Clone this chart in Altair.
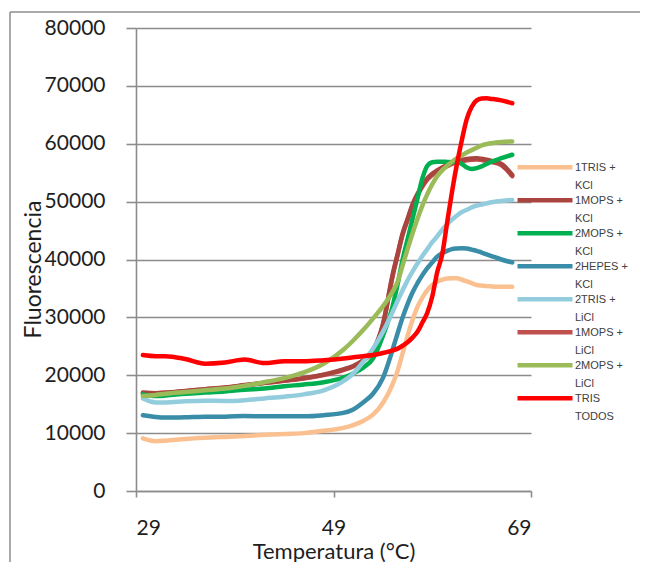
import altair as alt
import pandas as pd

# ---------------- data ----------------
temps = [29.7, 31, 32, 34, 36, 38, 40, 42, 44, 46, 48, 50, 51, 52, 53, 54, 55,
         55.5, 56, 56.5, 57, 57.5, 58, 58.5, 59, 59.5, 60, 60.5, 61, 61.5, 62,
         62.5, 63, 63.5, 64, 64.5, 65, 66, 67.1]

series_names = ["1TRIS + KCl", "1MOPS + KCl", "2MOPS + KCl", "2HEPES + KCl",
                "2TRIS + LiCl", "1MOPS + LiCl", "2MOPS + LiCl", "TRIS TODOS"]
series_colors = ["#FAC090", "#A9443F", "#00B050", "#3A8DA8",
                 "#93CDDD", "#C0504D", "#9BBB59", "#FF0000"]

tris1_kcl = [9100, 8600, 8700, 9000, 9200, 9350, 9500, 9700, 9850, 10000, 10400,
             10900, 11400, 12100, 13200, 15200, 18500, 20800, 23800, 26800, 29500,
             31800, 33400, 34700, 35600, 36200, 36500, 36700, 36750, 36750, 36500,
             36200, 35900, 35600, 35500, 35400, 35350, 35300, 35300]
mops1_kcl = [17000, 16900, 17000, 17300, 17600, 17900, 18300, 18700, 19100, 19500,
             20100, 21000, 21600, 22600, 24300, 28800, 37500, 41000, 44500, 47000,
             49500, 51300, 52800, 54000, 54800, 55400, 55900, 56300, 56700, 57000,
             57200, 57350, 57450, 57500, 57400, 57250, 57050, 56500, 54600]
mops2_kcl = [16700, 16400, 16500, 16800, 17000, 17200, 17500, 17700, 18100, 18400,
             18800, 19600, 20300, 21300, 22900, 26800, 32000, 35800, 40000, 43500,
             47000, 50500, 54000, 56200, 56800, 56900, 56900, 56850, 56800, 56800,
             56500, 55900, 55650, 55800, 56100, 56500, 56900, 57500, 58100]
hepes2_kcl = [13100, 12800, 12700, 12750, 12850, 12850, 12950, 12900, 12900, 12900,
              13100, 13500, 14100, 15300, 16800, 19500, 24500, 27300, 30000, 32300,
              34300, 35900, 37300, 38500, 39500, 40500, 41100, 41500, 41800, 41900,
              41950, 41900, 41700, 41500, 41200, 40900, 40600, 40000, 39500]
tris2_licl = [16000, 15300, 15300, 15500, 15600, 15550, 15700, 16000, 16300, 16700,
              17400, 19000, 20300, 22300, 24600, 27500, 31000, 32900, 34700, 36400,
              37900, 39300, 40600, 41800, 43000, 44000, 45100, 46100, 46900, 47600,
              48200, 48600, 49000, 49300, 49500, 49700, 49900, 50100, 50300]
mops1_licl = [16900, 16850, 16950, 17250, 17550, 17850, 18250, 18650, 19050, 19450,
              20050, 20900, 21500, 22500, 24200, 28600, 37200, 40800, 44300, 46800,
              49300, 51100, 52600, 53800, 54600, 55200, 55700, 56100, 56500, 56800,
              57000, 57150, 57250, 57300, 57200, 57050, 56850, 56300, 54400]
mops2_licl = [16400, 16600, 16800, 17100, 17400, 17700, 18200, 18800, 19500, 20500,
              22000, 24400, 26000, 27800, 29800, 31900, 34500, 36200, 39000, 41800,
              44500, 47000, 49300, 51300, 53000, 54400, 55400, 56200, 56900, 57500,
              58000, 58500, 58900, 59300, 59700, 59950, 60100, 60300, 60400]
tris_todos = [23500, 23300, 23300, 22800, 22000, 22200, 22700, 22100, 22400, 22400,
              22600, 22900, 23100, 23300, 23500, 23850, 24300, 24600, 25100, 25700,
              26500, 27500, 29100, 30800, 33600, 37800, 40800, 46300, 51700, 56500,
              60650, 64300, 66400, 67500, 67800, 67850, 67750, 67500, 67000]

series_values = [tris1_kcl, mops1_kcl, mops2_kcl, hepes2_kcl,
                 tris2_licl, mops1_licl, mops2_licl, tris_todos]

x_ticks = [29, 49, 69]
y_ticks = [0, 10000, 20000, 30000, 40000, 50000, 60000, 70000, 80000]

# drawing order (bottom -> top)
draw_order = [5, 0, 1, 2, 3, 4, 6, 7]

rows = []
for name, vals in zip(series_names, series_values):
    for t, v in zip(temps, vals):
        rows.append({"serie": name, "temp": t, "fluo": v})
df = pd.DataFrame(rows)

GRID = "#8c8c8c"
FONT = "Lato"
TXT = "#1e1e1e"

label_expr = ("indexof(datum.label, '+') >= 0 ? "
              "[slice(datum.label, 0, indexof(datum.label, '+') + 1), "
              "slice(datum.label, indexof(datum.label, '+') + 2)] : "
              "split(datum.label, ' ')")

legend = alt.Legend(
    title=None, orient="none", legendX=379, legendY=135, padding=0,
    symbolType="M-1,-0.14H1", symbolSize=3025, symbolStrokeWidth=4.5,
    clipHeight=16, rowPadding=4, labelFont="Liberation Sans", labelFontSize=11,
    labelColor="#404040", labelOffset=0, labelBaseline="alphabetic",
    labelLimit=200, labelExpr=label_expr,
)

x_enc = alt.X("temp:Q", scale=alt.Scale(domain=[29, 69], nice=False, zero=False),
              axis=alt.Axis(values=x_ticks, title="Temperatura (°C)", grid=False,
                            tickSize=6, labelPadding=20,
                            titleY=67, titleBaseline="alphabetic",
                            labelFontSize=21, titleFontSize=22))
y_enc = alt.Y("fluo:Q", scale=alt.Scale(domain=[0, 80000], nice=False),
              axis=alt.Axis(values=y_ticks, format="d", title="Fluorescencia",
                            grid=True, tickSize=10, labelPadding=21,
                            titleX=-91, titleY=241, titleBaseline="bottom",
                            labelFontSize=21, titleFontSize=23))
color_enc = alt.Color("serie:N", scale=alt.Scale(domain=series_names, range=series_colors),
                      legend=legend)

layers = []
for i in draw_order:
    layers.append(
        alt.Chart(df)
        .transform_filter(alt.datum.serie == series_names[i])
        .mark_line(strokeWidth=4.5, strokeCap="round", strokeJoin="round",
                   interpolate="monotone")
        .encode(x=x_enc, y=y_enc, color=color_enc)
    )

frame_df = pd.DataFrame({"k": [0]})
frame_top = alt.Chart(frame_df).mark_rule(color=GRID, strokeWidth=1.5).encode(
    x=alt.value(-126), x2=alt.value(520), y=alt.value(-16))
frame_left = alt.Chart(frame_df).mark_rule(color=GRID, strokeWidth=1.5).encode(
    x=alt.value(-126), y=alt.value(-16), y2=alt.value(560))

chart = alt.layer(*layers, frame_top, frame_left).properties(
    width=395, height=463,
    padding={"left": 128, "top": 20, "right": 109, "bottom": 71},
    autosize=alt.AutoSizeParams(type="none"),
).configure(
    style={"guide-label": {"lineHeight": 18}}
).configure_view(stroke=None).configure_axis(
    labelFont=FONT, titleFont=FONT, labelColor=TXT, titleColor=TXT,
    titleFontWeight="normal", domainColor=GRID, tickColor=GRID, gridColor=GRID,
    domainWidth=1.6, tickWidth=1.6, gridWidth=1.6,
)

chart.save("out.html", embed_options={"renderer": "svg", "actions": False})
